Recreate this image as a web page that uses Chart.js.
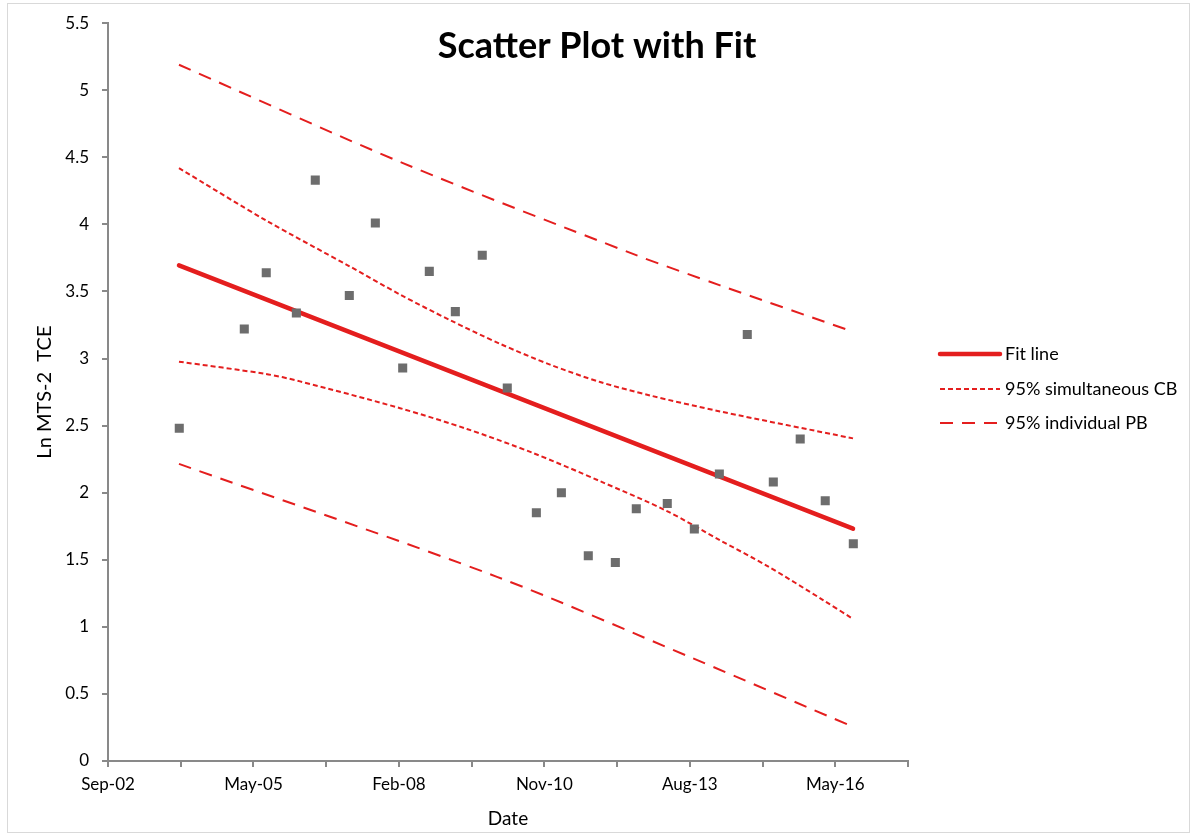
<!DOCTYPE html>
<html>
<head>
<meta charset="utf-8">
<script src="https://cdn.jsdelivr.net/npm/chart.js@4/dist/chart.umd.min.js"></script>
<style>
  body { margin: 0; background: #fff; }
</style>
</head>
<body>
<canvas id="myChart" width="1194" height="836"></canvas>
<script>
// dates as Excel serial days, values = Ln MTS-2 TCE
var pointDates = [37990, 38437, 38588, 38795, 38925, 39159, 39338, 39526, 39709, 39888, 40073, 40245,
  40445, 40617, 40802, 40988, 41132, 41345, 41531, 41703, 41895, 42074, 42259, 42431, 42624];
var pointValues = [2.48, 3.22, 3.64, 3.34, 4.33, 3.47, 4.01, 2.93, 3.65, 3.35, 3.77, 2.78,
  1.85, 2.00, 1.53, 1.48, 1.88, 1.92, 1.73, 2.14, 3.18, 2.08, 2.40, 1.94, 1.62];

var fitDates = [37988, 42622];
var fitValues = [3.695, 1.732];

// 95% simultaneous confidence band
var cbUpperDates = [37988, 38586, 39157, 39508, 39851, 40195, 40539, 40883, 41226, 41708, 42622];
var cbUpper = [4.42, 4.03, 3.69, 3.477, 3.287, 3.11, 2.955, 2.825, 2.725, 2.606, 2.405];
var cbLowerDates = [37988, 38586, 38820, 39508, 39968, 40422, 40883, 41343, 41708, 42031, 42416, 42622];
var cbLower = [2.977, 2.885, 2.83, 2.63, 2.475, 2.296, 2.086, 1.863, 1.645, 1.455, 1.20, 1.059];

// 95% individual prediction band
var pbUpperDates = [37988, 39528, 41109, 41708, 42622];
var pbUpper = [5.19, 4.457, 3.78, 3.546, 3.20];
var pbLowerDates = [37988, 40174, 41522, 42622];
var pbLower = [2.215, 1.373, 0.765, 0.255];

var xTickValues = [37500, 38500, 39500, 40500, 41500, 42500];
var xTickLabels = ['Sep-02', 'May-05', 'Feb-08', 'Nov-10', 'Aug-13', 'May-16'];

var legendLabels = ['Fit line', '95% simultaneous CB', '95% individual PB'];

var red = '#e41e1e';
var axisGrey = '#898989';
var fontFam = 'Lato, "Open Sans", sans-serif';

function pairs(xs, ys) {
  return xs.map(function(x, i){ return {x: x, y: ys[i]} })
}

var extras = {
  id: 'extras',
  afterDraw: function(chart) {
    var ctx = chart.ctx;
    ctx.save();
    // outer frame
    ctx.strokeStyle = '#d9d9d9';
    ctx.lineWidth = 1;
    ctx.strokeRect(7.5, 3.5, 1182, 829);
    // title
    ctx.fillStyle = '#000';
    ctx.font = 'bold 36px ' + fontFam;
    ctx.textAlign = 'center';
    ctx.textBaseline = 'middle';
    ctx.fillText('Scatter Plot with Fit', 597, 46);
    // legend
    var ds = chart.data.datasets;
    var x0 = 940, x1 = 1000, rowY = [354, 389, 423];
    ctx.font = '18px ' + fontFam;
    ctx.textAlign = 'left';
    for (var i = 0; i < 3; i++) {
      var d = ds[i + 1];
      ctx.beginPath();
      ctx.strokeStyle = d.borderColor;
      ctx.lineWidth = d.borderWidth;
      ctx.lineCap = i == 0 ? 'round' : 'butt';
      ctx.setLineDash(d.borderDash || []);
      ctx.moveTo(x0, rowY[i]);
      ctx.lineTo(x1, rowY[i]);
      ctx.stroke();
      ctx.setLineDash([]);
      ctx.fillStyle = '#000';
      ctx.fillText(legendLabels[i], x1 + 5, rowY[i]);
    }
    ctx.restore();
  }
};

var bandStyle = function(data, dash) {
  return {
    data: data,
    showLine: true,
    borderColor: red,
    backgroundColor: red,
    borderWidth: 2,
    borderDash: dash,
    pointRadius: 0,
    tension: 0.3,
    order: 1
  }
};

var ctxDir = document.getElementById('myChart');
var chart = new Chart(ctxDir, {
  type: 'scatter',
  data: {
    datasets: [
      {
        data: pairs(pointDates, pointValues),
        pointStyle: 'rect',
        pointRadius: 6.4,
        pointHoverRadius: 6.4,
        backgroundColor: '#6d6d6d',
        borderWidth: 0,
        order: 0
      },
      {
        data: pairs(fitDates, fitValues),
        showLine: true,
        borderColor: red,
        backgroundColor: red,
        borderWidth: 4.5,
        borderCapStyle: 'round',
        pointRadius: 0,
        order: 1
      },
      bandStyle(pairs(cbUpperDates, cbUpper), [5, 3]),
      bandStyle(pairs(pbUpperDates, pbUpper), [13, 9]),
      bandStyle(pairs(cbLowerDates, cbLower), [5, 3]),
      bandStyle(pairs(pbLowerDates, pbLower), [13, 9])
    ]
  },
  options: {
    responsive: false,
    animation: false,
    layout: { padding: { top: 20, right: 286, left: 0, bottom: 0 } },
    plugins: {
      legend: { display: false },
      tooltip: { enabled: false }
    },
    scales: {
      x: {
        type: 'linear',
        min: 37500,
        max: 43000,
        afterFit: function(scale){ scale.height = 75 },
        afterBuildTicks: function(scale){
          var t = [];
          for (var v = 37500; v <= 43000; v += 500) t.push({value: v});
          scale.ticks = t;
        },
        grid: { drawOnChartArea: false, drawTicks: true, tickLength: 6, color: axisGrey, lineWidth: 2 },
        border: { color: axisGrey, width: 2 },
        ticks: {
          autoSkip: false,
          maxRotation: 0,
          padding: 7,
          color: '#000',
          font: { family: fontFam, size: 17 },
          callback: function(v){
            var i = xTickValues.indexOf(v);
            return i >= 0 ? xTickLabels[i] : '';
          }
        },
        title: {
          display: true,
          text: 'Date',
          color: '#000',
          font: { family: fontFam, size: 19 },
          padding: { top: 0, bottom: 6 }
        }
      },
      y: {
        min: 0,
        max: 5.5,
        afterFit: function(scale){ scale.width = 108 },
        grid: { drawOnChartArea: false, drawTicks: true, tickLength: 6, color: axisGrey, lineWidth: 2 },
        border: { color: axisGrey, width: 2 },
        ticks: {
          stepSize: 0.5,
          padding: 13,
          color: '#000',
          font: { family: fontFam, size: 17 },
          callback: function(v){ return String(Math.round(v * 10) / 10) }
        },
        title: {
          display: true,
          text: 'Ln MTS-2  TCE',
          color: '#000',
          font: { family: fontFam, size: 20 },
          padding: { top: 33, bottom: 0 }
        }
      }
    }
  },
  plugins: [extras]
});
</script>
</body>
</html>
